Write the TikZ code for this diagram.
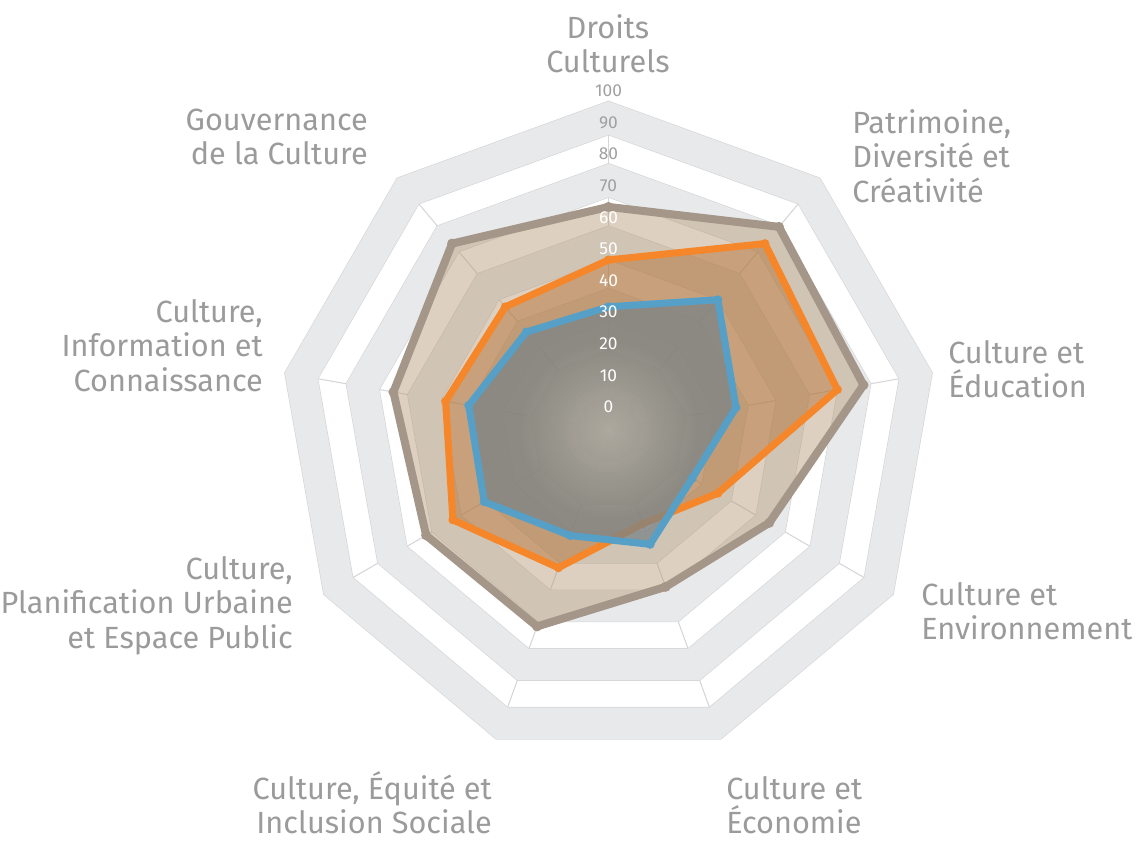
\documentclass[tikz,border=0pt]{standalone}
\usepackage{fontspec}
\setmainfont{Fira Sans}
\usetikzlibrary{fadings}

\definecolor{bandgray}{RGB}{232,233,235}
\definecolor{axisgray}{RGB}{214,214,216}
\definecolor{labelgray}{RGB}{155,155,155}
\definecolor{tickgray}{RGB}{160,160,162}
\definecolor{tanline}{RGB}{164,150,136}
\definecolor{tanfill}{RGB}{180,151,115}
\definecolor{orangeline}{RGB}{245,134,42}
\definecolor{orangefill}{RGB}{174,106,41}
\definecolor{blueline}{RGB}{86,160,200}
\definecolor{bluefill}{RGB}{122,131,134}
\definecolor{glowcol}{RGB}{236,226,212}

\tikzfading[name=glow, inner color=transparent!65, outer color=transparent!100]

\tikzset{
  band/.style={draw=axisgray, line width=0.5pt, double=bandgray, double distance=23.5pt, line join=miter},
  axisline/.style={draw=axisgray, line width=0.8pt},
  series/.style={line width=5.25pt, line join=round},
  tick/.style={font=\fontsize{13}{13}\selectfont, inner sep=0pt},
  cat/.style={font=\fontsize{23}{26}\selectfont, text=labelgray, inner sep=0pt},
}
\def\kk{3.12}

\begin{document}
\begin{tikzpicture}[x=0.75pt,y=0.75pt,yscale=-1,xscale=1]
\useasboundingbox (0,0) rectangle (1138,841);

\begin{scope}[shift={(608.5,430)}]
%Straight Lines: axes
\foreach \a in {-90,-50,...,230}
  \draw[axisline] (0,0) -- (\a:322);
%Shape: grid bands
\foreach \r in {100,80,60,40,20}
  \draw[band] (-90:{\r*\kk}) \foreach \a in {-50,-10,...,230} {-- (\a:{\r*\kk})} -- cycle;
%Shape: centre
\fill[bandgray] (-90:34) \foreach \a in {-50,-10,...,230} {-- (\a:34)} -- cycle;
\foreach \a in {-90,-50,...,230}
  \draw[white, line width=1.2pt] (0,0) -- (\a:34);

%Series: tan
\foreach \v [count=\i] in {71.5,85,83,59.5,53.5,67,67.5,70,78}
  \coordinate (tan\i) at ({40*\i-130}:{\v*\kk});
\fill[tanfill, fill opacity=0.45] (tan1) \foreach \i in {2,...,9} {-- (tan\i)} -- cycle;
\draw[series, tanline, line width=6pt] (tan1) \foreach \i in {2,...,9} {-- (tan\i)} -- cycle;
\foreach \i in {1,...,9} \fill[tanline] (tan\i) circle (5);

%Series: orange
\foreach \v [count=\i] in {54.5,78,74.5,40.5,32,47,57.6,53,51.5}
  \coordinate (org\i) at ({40*\i-130}:{\v*\kk});
\fill[orangefill, fill opacity=0.45] (org1) \foreach \i in {2,...,9} {-- (org\i)} -- cycle;
\draw[series, orangeline] (org1) \foreach \i in {2,...,9} {-- (org\i)} -- cycle;
\foreach \i in {1,...,9} \fill[orangeline] (org\i) circle (4.5);

%Series: blue
\foreach \v [count=\i] in {39.5,54.5,41.5,31,39,36,46,45.5,41}
  \coordinate (blu\i) at ({40*\i-130}:{\v*\kk});
\fill[bluefill, fill opacity=0.75] (blu1) \foreach \i in {2,...,9} {-- (blu\i)} -- cycle;
\fill[glowcol, path fading=glow] (0,0) circle (90);
\draw[series, blueline] (blu1) \foreach \i in {2,...,9} {-- (blu\i)} -- cycle;
\foreach \i in {1,...,9} \fill[blueline] (blu\i) circle (4.5);

% Text Node: scale
\foreach \v in {0,10,...,100} {
  \ifnum\v>65 \def\tc{tickgray}\else \def\tc{white}\fi
  \node[tick, text=\tc] (tick\v) at (0,{-23-3.16*\v}) {\v};
}
\end{scope}

% Text Node
\node[cat, anchor=north, align=center] (droits) at (608,10) {\vphantom{Él}Droits\\Culturels};
% Text Node
\node[cat, anchor=north west, align=left] (patrimoine) at (852,105) {\vphantom{Él}Patrimoine,\\Diversité et\\Créativité};
% Text Node
\node[cat, anchor=north west, align=left] (education) at (948,335) {\vphantom{Él}Culture et\\Éducation};
% Text Node
\node[cat, anchor=north west, align=left] (environnement) at (921,577) {\vphantom{Él}Culture et\\Environnement};
% Text Node
\node[cat, anchor=north west, align=left] (economie) at (726,771) {\vphantom{Él}Culture et\\Économie};
% Text Node
\node[cat, anchor=north east, align=right] (equite) at (492,771) {\vphantom{Él}Culture, Équité et\\Inclusion Sociale};
% Text Node
\node[cat, anchor=north east, align=right] (planification) at (293,551) {\vphantom{Él}Culture,\\Planification Urbaine\\et Espace Public};
% Text Node
\node[cat, anchor=north east, align=right] (information) at (263,294) {\vphantom{Él}Culture,\\Information et\\Connaissance};
% Text Node
\node[cat, anchor=north east, align=right] (gouvernance) at (368,102) {\vphantom{Él}Gouvernance\\de la Culture};

\end{tikzpicture}
\end{document}
